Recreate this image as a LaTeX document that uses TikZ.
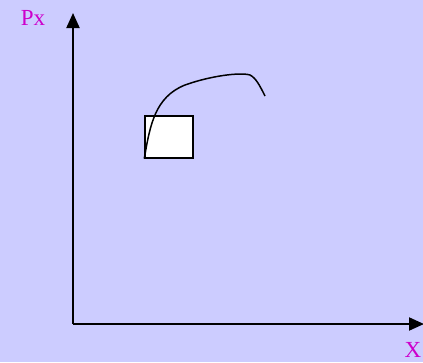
\documentclass[tikz,border=0pt]{standalone}
\usepackage{fontspec}
\setmainfont{Liberation Serif}
\usetikzlibrary{arrows.meta}
\definecolor{bgc}{HTML}{CCCCFF}
\definecolor{lblc}{HTML}{CC00CC}
\begin{document}
\begin{tikzpicture}[x=1pt,y=-1pt,
  axis/.style={line width=2pt,-{Triangle[length=15pt,width=13pt]}},
  lbl/.style={text=lblc,font=\fontsize{23}{25}\selectfont,inner sep=0pt},
  boxc/.style={draw,fill=white,line width=1.5pt,minimum width=48pt,minimum height=42pt,inner sep=0pt}]
\fill[bgc] (0,0) rectangle (423,362);
\useasboundingbox (0,0) rectangle (423,362);
\coordinate (o) at (73,324);
\coordinate (ytip) at (73,13);
\coordinate (xtip) at (424,324);
\draw[axis] (o) -- (ytip);
\draw[axis] (o) -- (xtip);
\node[lbl] (px) at (33,18) {Px};
\node[lbl] (xl) at (413,350) {X};
\node[boxc] (b) at (169,137) {};
\coordinate (c0) at (b.south west);
\coordinate (c1) at (265,96);
\draw[line width=1.5pt] (c0) .. controls (150,125) and (155,97) .. (185,85)
  .. controls (210,76) and (240,72) .. (250,75) .. controls (256,78) and (260,86) .. (c1);
\end{tikzpicture}
\end{document}
